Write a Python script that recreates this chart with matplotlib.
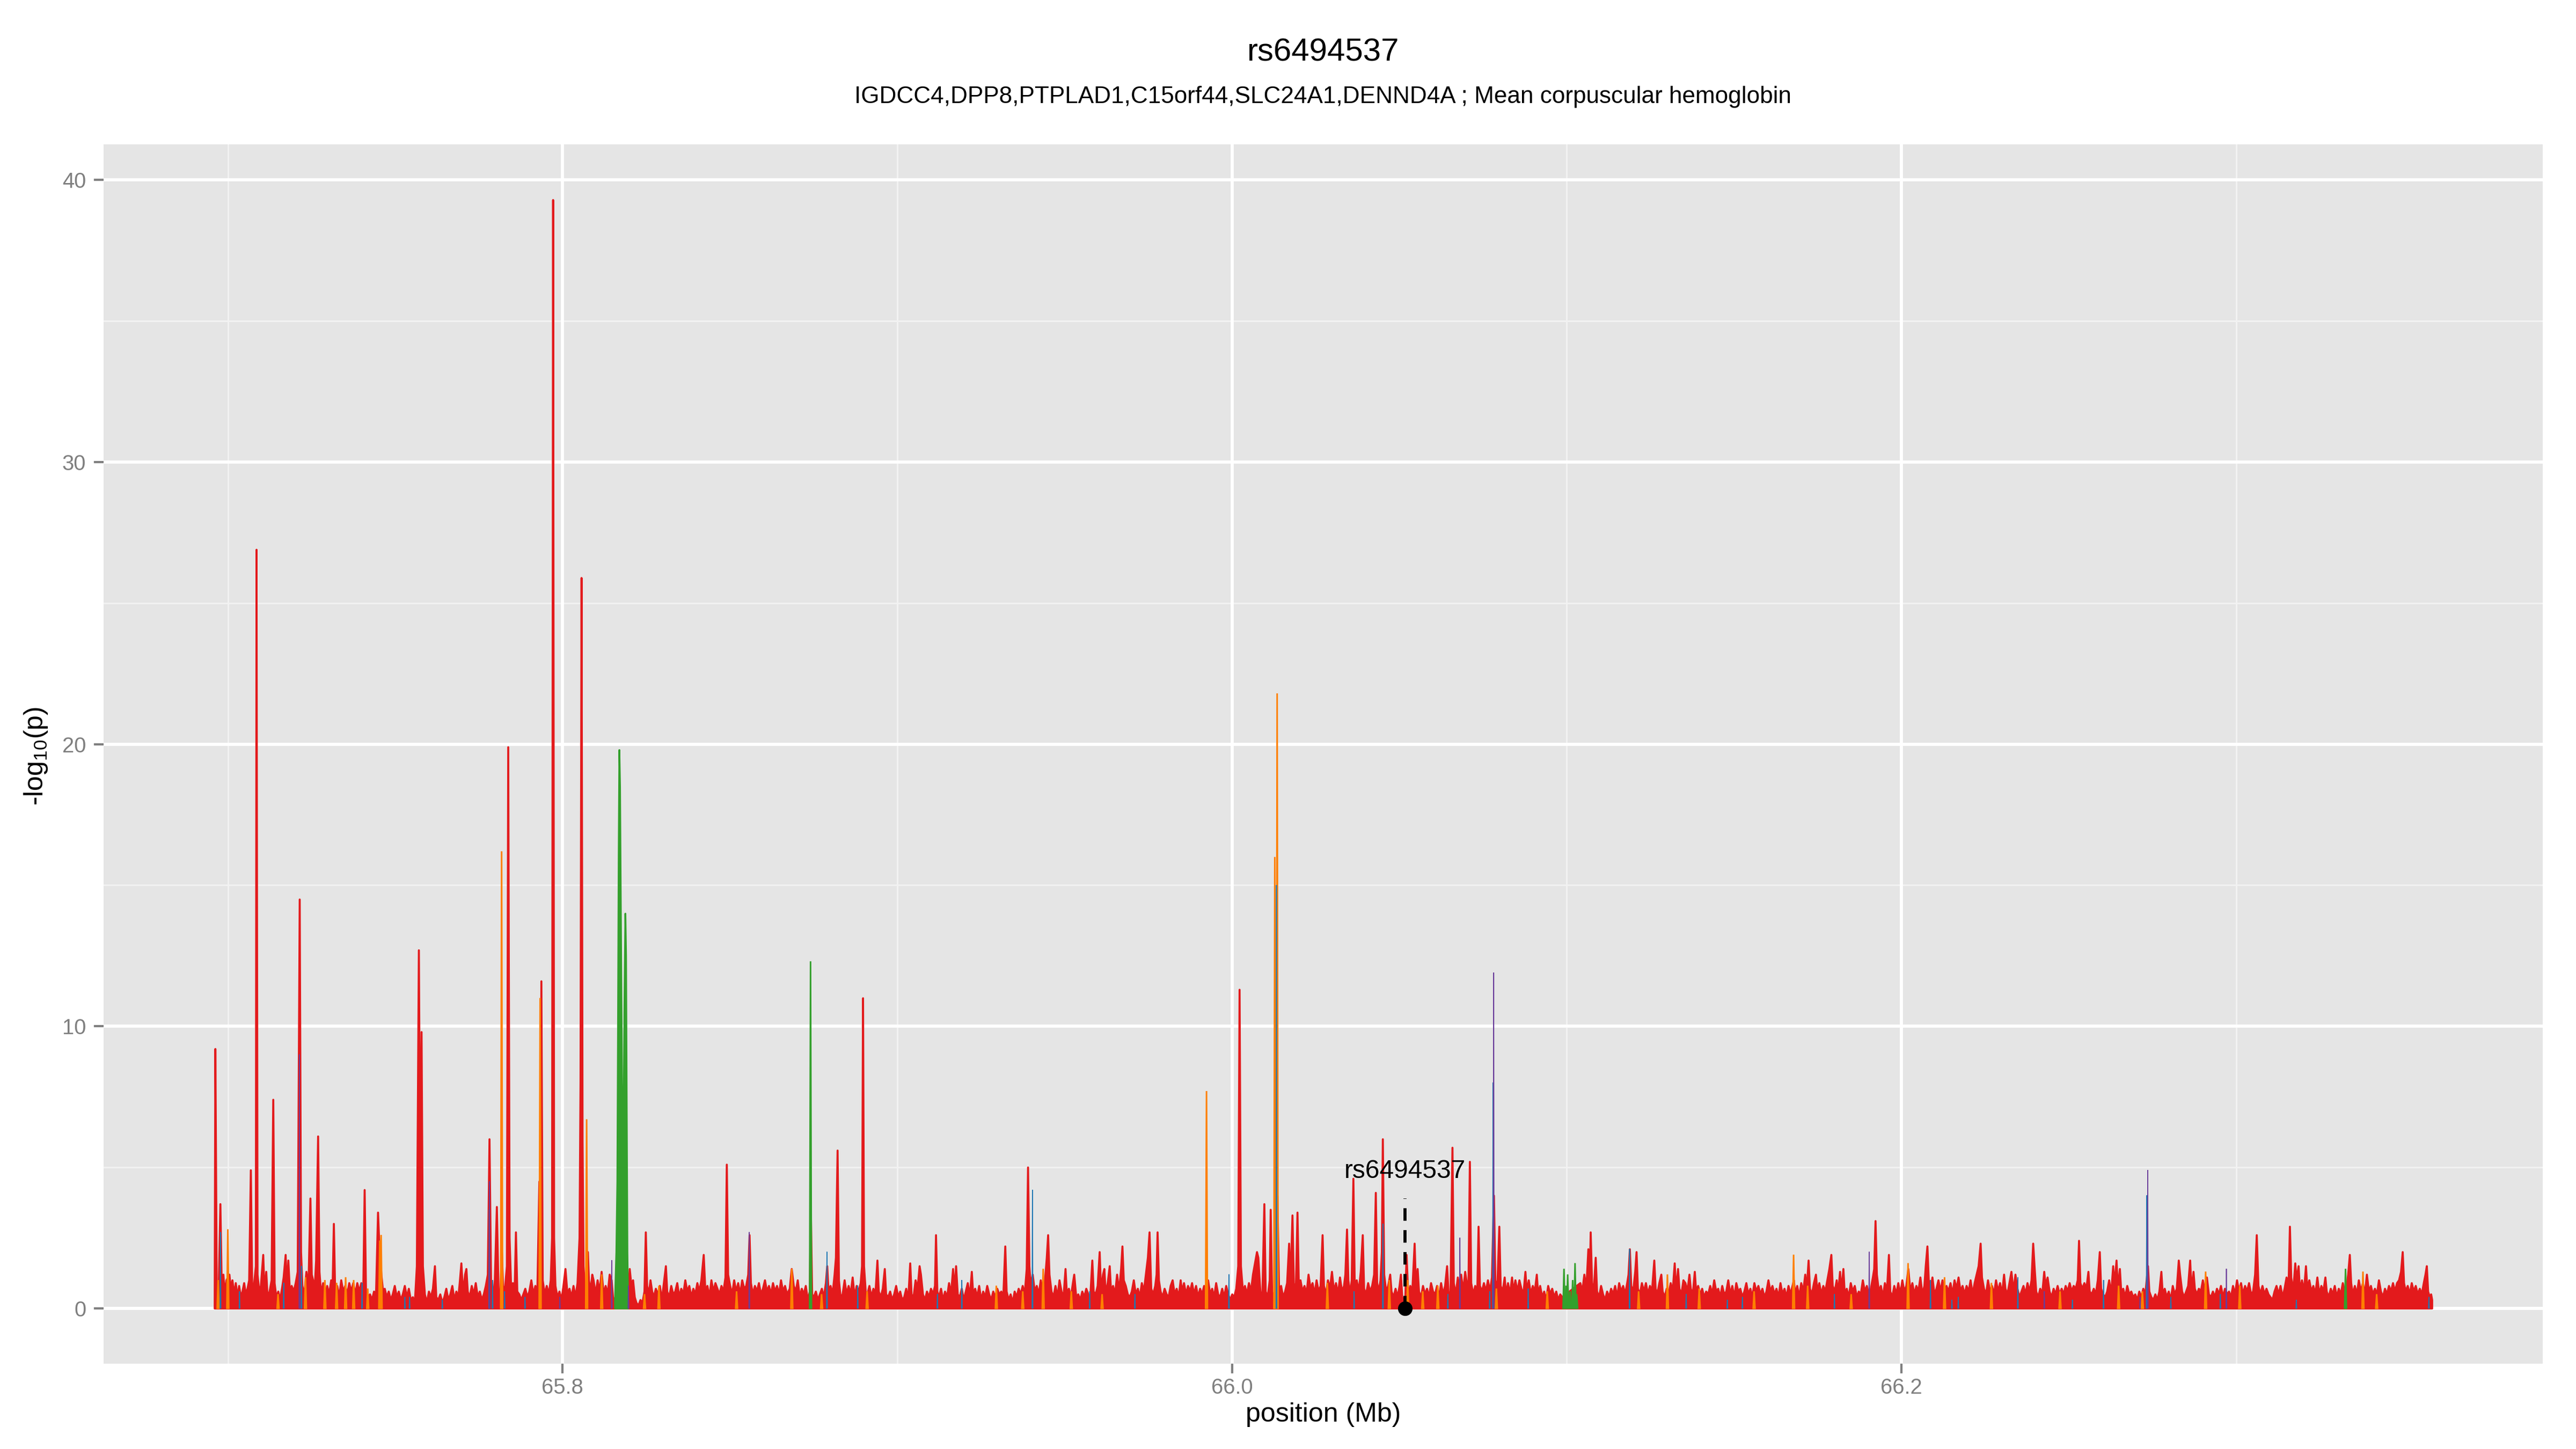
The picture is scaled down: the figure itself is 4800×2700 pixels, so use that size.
import numpy as np
import matplotlib
matplotlib.use('Agg')
import matplotlib.pyplot as plt

plt.rcParams['font.family'] = ['Liberation Sans', 'DejaVu Sans']
plt.rcParams['mathtext.fontset'] = 'custom'
plt.rcParams['mathtext.rm'] = 'Liberation Sans'
plt.rcParams['mathtext.it'] = 'Liberation Sans'

# --- text ---
title = 'rs6494537'
subtitle = 'IGDCC4,DPP8,PTPLAD1,C15orf44,SLC24A1,DENND4A ; Mean corpuscular hemoglobin'
x_title = 'position (Mb)'
y_title = r'-log$_{10}$(p)'

# lead SNP marker
lead_snp = 'rs6494537'
lead_pos = 66.0517
lead_line_top = 3.9
lead_label_y = 4.85

x_ticks = [65.8, 66.0, 66.2]
x_minor = [65.7, 65.9, 66.1, 66.3]
y_ticks = [0, 10, 20, 30, 40]
y_minor = [5, 15, 25, 35]

# --- data: (position Mb, -log10 p) ---
red_snps = [
    (65.6960, 0.0), (65.6962, 9.2), (65.6966, 1.0), (65.6972, 0.6), (65.6977, 3.7), (65.6981, 0.8),
    (65.6986, 1.2), (65.6990, 0.5), (65.6995, 1.0), (65.7004, 1.2), (65.7008, 0.7), (65.7013, 1.0),
    (65.7018, 0.5), (65.7023, 0.9), (65.7028, 0.4), (65.7033, 0.8), (65.7038, 0.4), (65.7043, 0.6),
    (65.7048, 0.9), (65.7053, 0.5), (65.7058, 0.7), (65.7063, 1.0), (65.7068, 4.9), (65.7072, 0.8),
    (65.7078, 0.9), (65.7083, 1.5), (65.7085, 26.9), (65.7088, 1.2), (65.7093, 0.6), (65.7098, 0.8),
    (65.7105, 1.9), (65.7109, 0.5), (65.7114, 1.3), (65.7118, 0.4), (65.7124, 0.6), (65.7130, 1.0),
    (65.7135, 7.4), (65.7139, 0.9), (65.7144, 0.4), (65.7150, 0.6), (65.7155, 0.3), (65.7161, 0.7),
    (65.7166, 1.1), (65.7172, 1.9), (65.7176, 0.6), (65.7180, 1.7), (65.7185, 0.5), (65.7190, 0.8),
    (65.7196, 0.6), (65.7202, 0.9), (65.7208, 1.3), (65.7214, 14.5), (65.7218, 2.0), (65.7222, 0.8),
    (65.7228, 0.5), (65.7234, 1.3), (65.7240, 0.7), (65.7246, 3.9), (65.7250, 1.2), (65.7254, 1.0),
    (65.7258, 0.5), (65.7263, 1.7), (65.7269, 6.1), (65.7273, 1.3), (65.7278, 0.5), (65.7284, 0.9),
    (65.7290, 0.4), (65.7296, 0.8), (65.7302, 0.5), (65.7308, 1.0), (65.7312, 0.6), (65.7316, 3.0),
    (65.7320, 0.5), (65.7326, 0.8), (65.7332, 0.4), (65.7338, 1.0), (65.7344, 0.6), (65.7350, 0.8),
    (65.7356, 0.5), (65.7362, 0.9), (65.7368, 0.6), (65.7374, 0.9), (65.7380, 0.5), (65.7386, 0.9),
    (65.7392, 0.6), (65.7398, 0.9), (65.7404, 0.7), (65.7408, 4.2), (65.7412, 0.6), (65.7418, 0.4),
    (65.7424, 0.5), (65.7430, 0.3), (65.7436, 0.6), (65.7442, 0.5), (65.7448, 3.4), (65.7452, 2.2),
    (65.7458, 1.2), (65.7463, 0.6), (65.7468, 0.7), (65.7474, 0.4), (65.7480, 0.6), (65.7486, 0.3),
    (65.7492, 0.5), (65.7498, 0.8), (65.7504, 0.4), (65.7510, 0.6), (65.7516, 0.3), (65.7522, 0.5),
    (65.7528, 0.8), (65.7534, 0.4), (65.7540, 0.7), (65.7546, 0.3), (65.7552, 0.4), (65.7558, 0.2),
    (65.7564, 1.5), (65.7570, 12.7), (65.7574, 4.0), (65.7578, 9.8), (65.7582, 1.5), (65.7588, 0.5),
    (65.7594, 0.2), (65.7600, 0.6), (65.7606, 0.4), (65.7612, 0.7), (65.7618, 1.5), (65.7622, 0.4),
    (65.7628, 0.3), (65.7634, 0.5), (65.7640, 0.2), (65.7646, 0.4), (65.7652, 0.7), (65.7658, 0.3),
    (65.7664, 0.5), (65.7670, 0.8), (65.7676, 0.3), (65.7682, 0.6), (65.7688, 0.4), (65.7692, 0.9),
    (65.7697, 1.6), (65.7702, 0.5), (65.7708, 1.2), (65.7712, 1.4), (65.7716, 0.6), (65.7722, 0.4),
    (65.7728, 0.8), (65.7734, 0.5), (65.7740, 0.9), (65.7746, 0.4), (65.7752, 0.6), (65.7758, 0.3),
    (65.7764, 0.5), (65.7770, 0.8), (65.7776, 1.2), (65.7781, 6.0), (65.7786, 0.6), (65.7792, 0.4),
    (65.7797, 1.0), (65.7803, 3.6), (65.7808, 0.6), (65.7813, 0.4), (65.7818, 2.0), (65.7822, 0.6),
    (65.7828, 0.8), (65.7833, 1.5), (65.7837, 19.9), (65.7841, 2.5), (65.7846, 0.6), (65.7851, 0.9),
    (65.7856, 0.5), (65.7860, 2.7), (65.7864, 0.6), (65.7870, 0.5), (65.7876, 0.3), (65.7882, 0.5),
    (65.7888, 0.7), (65.7894, 0.4), (65.7900, 0.6), (65.7906, 1.0), (65.7912, 0.5), (65.7918, 0.8),
    (65.7924, 0.6), (65.7930, 4.5), (65.7933, 1.5), (65.7936, 11.6), (65.7940, 1.0), (65.7946, 0.5),
    (65.7952, 0.8), (65.7958, 0.5), (65.7964, 1.0), (65.7968, 2.5), (65.7971, 39.3), (65.7974, 2.5),
    (65.7978, 0.8), (65.7984, 0.4), (65.7990, 0.6), (65.7996, 0.3), (65.8002, 0.8), (65.8008, 1.4),
    (65.8014, 0.5), (65.8020, 0.7), (65.8026, 0.4), (65.8032, 0.8), (65.8038, 0.4), (65.8044, 0.9),
    (65.8050, 2.5), (65.8053, 8.0), (65.8056, 25.9), (65.8059, 6.0), (65.8062, 1.5), (65.8066, 0.7),
    (65.8070, 0.5), (65.8075, 2.0), (65.8078, 1.0), (65.8083, 0.6), (65.8088, 1.2), (65.8092, 1.0),
    (65.8098, 0.5), (65.8104, 1.0), (65.8110, 0.6), (65.8116, 1.3), (65.8122, 0.5), (65.8128, 0.8),
    (65.8134, 0.5), (65.8140, 1.2), (65.8146, 1.0), (65.8150, 0.4), (65.8155, 0.3), (65.8196, 0.6),
    (65.8200, 1.4), (65.8205, 0.8), (65.8210, 1.0), (65.8215, 0.4), (65.8220, 0.2), (65.8226, 0.1),
    (65.8232, 0.3), (65.8238, 0.2), (65.8244, 0.6), (65.8248, 2.7), (65.8252, 0.8), (65.8257, 0.5),
    (65.8262, 1.0), (65.8267, 0.6), (65.8272, 0.4), (65.8278, 0.7), (65.8284, 0.5), (65.8290, 0.8),
    (65.8296, 0.3), (65.8302, 0.9), (65.8308, 1.5), (65.8312, 0.6), (65.8318, 0.4), (65.8324, 0.8),
    (65.8330, 0.5), (65.8336, 0.6), (65.8342, 0.9), (65.8348, 0.4), (65.8354, 0.7), (65.8360, 0.5),
    (65.8366, 1.0), (65.8372, 0.6), (65.8378, 0.8), (65.8384, 0.4), (65.8390, 0.7), (65.8396, 0.5),
    (65.8402, 0.9), (65.8408, 0.6), (65.8414, 1.0), (65.8421, 1.9), (65.8426, 0.6), (65.8432, 0.8),
    (65.8438, 0.4), (65.8444, 1.0), (65.8450, 0.6), (65.8456, 0.9), (65.8462, 0.7), (65.8468, 0.5),
    (65.8474, 0.8), (65.8480, 0.6), (65.8486, 1.1), (65.8490, 5.1), (65.8494, 1.2), (65.8500, 0.8),
    (65.8506, 0.5), (65.8512, 1.0), (65.8518, 0.6), (65.8524, 0.9), (65.8530, 0.5), (65.8536, 1.0),
    (65.8542, 0.7), (65.8548, 0.8), (65.8554, 1.2), (65.8558, 2.6), (65.8562, 0.9), (65.8568, 0.5),
    (65.8574, 0.8), (65.8580, 0.6), (65.8586, 0.9), (65.8592, 0.5), (65.8598, 0.7), (65.8604, 1.0),
    (65.8610, 0.6), (65.8616, 0.8), (65.8622, 0.5), (65.8628, 0.9), (65.8634, 0.6), (65.8640, 0.8),
    (65.8646, 0.5), (65.8652, 1.0), (65.8658, 0.6), (65.8664, 0.8), (65.8670, 0.5), (65.8678, 0.7),
    (65.8684, 1.4), (65.8690, 0.8), (65.8696, 0.6), (65.8702, 1.0), (65.8708, 0.4), (65.8714, 0.7),
    (65.8720, 0.5), (65.8726, 0.8), (65.8732, 0.3), (65.8738, 0.6), (65.8741, 3.5), (65.8745, 0.5),
    (65.8750, 0.4), (65.8756, 0.6), (65.8762, 0.3), (65.8768, 0.5), (65.8774, 0.7), (65.8780, 0.4),
    (65.8786, 0.9), (65.8790, 1.5), (65.8794, 0.6), (65.8800, 0.8), (65.8806, 0.5), (65.8812, 1.2),
    (65.8816, 1.8), (65.8821, 5.6), (65.8825, 1.0), (65.8830, 0.4), (65.8836, 0.5), (65.8842, 1.0),
    (65.8848, 0.5), (65.8854, 0.8), (65.8860, 0.5), (65.8866, 1.1), (65.8872, 0.4), (65.8878, 0.8),
    (65.8884, 0.6), (65.8890, 0.9), (65.8894, 1.5), (65.8897, 11.0), (65.8900, 1.5), (65.8905, 0.6),
    (65.8910, 0.5), (65.8916, 0.8), (65.8922, 0.4), (65.8928, 0.7), (65.8934, 0.5), (65.8940, 1.7),
    (65.8944, 0.6), (65.8950, 0.4), (65.8956, 0.7), (65.8962, 1.4), (65.8966, 0.5), (65.8972, 0.4),
    (65.8978, 0.6), (65.8984, 0.3), (65.8990, 0.5), (65.8996, 0.8), (65.9002, 0.4), (65.9008, 0.6),
    (65.9014, 0.3), (65.9020, 0.4), (65.9026, 0.7), (65.9032, 0.3), (65.9038, 1.6), (65.9042, 0.5),
    (65.9048, 0.4), (65.9054, 1.0), (65.9060, 0.7), (65.9066, 1.5), (65.9070, 1.2), (65.9076, 0.5),
    (65.9082, 0.3), (65.9088, 0.6), (65.9094, 0.4), (65.9100, 0.7), (65.9106, 0.5), (65.9112, 0.8),
    (65.9115, 2.6), (65.9119, 0.6), (65.9124, 0.4), (65.9130, 0.7), (65.9136, 0.3), (65.9142, 0.6),
    (65.9148, 0.4), (65.9154, 0.9), (65.9160, 0.5), (65.9166, 1.4), (65.9170, 0.6), (65.9175, 1.5),
    (65.9180, 0.5), (65.9186, 0.4), (65.9192, 0.7), (65.9198, 0.3), (65.9204, 0.6), (65.9210, 0.9),
    (65.9216, 0.4), (65.9222, 1.3), (65.9226, 0.5), (65.9232, 0.7), (65.9238, 0.4), (65.9244, 0.8),
    (65.9250, 0.3), (65.9256, 0.6), (65.9262, 0.4), (65.9268, 0.8), (65.9274, 0.5), (65.9280, 0.3),
    (65.9286, 0.6), (65.9292, 0.4), (65.9298, 0.7), (65.9304, 0.5), (65.9310, 0.6), (65.9316, 0.4),
    (65.9322, 2.2), (65.9326, 0.6), (65.9332, 0.3), (65.9338, 0.5), (65.9344, 0.2), (65.9350, 0.6),
    (65.9356, 0.4), (65.9362, 0.7), (65.9368, 0.5), (65.9374, 0.8), (65.9380, 0.5), (65.9386, 1.4),
    (65.9390, 5.0), (65.9394, 1.5), (65.9398, 0.8), (65.9404, 1.2), (65.9410, 0.6), (65.9416, 0.8),
    (65.9422, 0.5), (65.9428, 1.0), (65.9434, 0.6), (65.9440, 0.9), (65.9446, 1.8), (65.9450, 2.6),
    (65.9454, 1.2), (65.9460, 0.6), (65.9466, 0.4), (65.9472, 0.8), (65.9478, 0.4), (65.9484, 1.0),
    (65.9490, 0.6), (65.9496, 0.4), (65.9502, 1.4), (65.9506, 0.5), (65.9512, 0.7), (65.9518, 0.4),
    (65.9524, 0.9), (65.9528, 1.2), (65.9534, 0.4), (65.9540, 0.5), (65.9546, 0.3), (65.9552, 0.6),
    (65.9558, 0.4), (65.9564, 0.7), (65.9570, 0.5), (65.9576, 0.4), (65.9582, 1.7), (65.9586, 0.6),
    (65.9592, 0.5), (65.9598, 0.8), (65.9604, 2.0), (65.9608, 0.6), (65.9614, 1.2), (65.9618, 1.4),
    (65.9622, 0.5), (65.9628, 0.9), (65.9634, 1.5), (65.9638, 0.6), (65.9644, 0.8), (65.9650, 0.5),
    (65.9656, 1.2), (65.9662, 0.6), (65.9668, 1.4), (65.9672, 2.2), (65.9676, 1.0), (65.9682, 0.8),
    (65.9688, 0.5), (65.9694, 0.4), (65.9700, 0.6), (65.9706, 1.0), (65.9712, 0.5), (65.9718, 0.7),
    (65.9724, 0.4), (65.9730, 0.9), (65.9736, 0.6), (65.9742, 1.2), (65.9748, 1.8), (65.9753, 2.7),
    (65.9758, 0.7), (65.9764, 0.5), (65.9770, 0.8), (65.9774, 1.2), (65.9777, 2.7), (65.9781, 1.0),
    (65.9786, 0.6), (65.9792, 0.4), (65.9798, 0.7), (65.9804, 0.5), (65.9810, 0.4), (65.9816, 0.8),
    (65.9822, 1.0), (65.9828, 0.5), (65.9834, 0.7), (65.9840, 0.4), (65.9846, 1.0), (65.9850, 0.6),
    (65.9856, 0.9), (65.9862, 0.5), (65.9868, 0.8), (65.9874, 0.6), (65.9880, 0.9), (65.9886, 0.5),
    (65.9892, 0.8), (65.9898, 0.4), (65.9904, 0.7), (65.9910, 0.5), (65.9916, 0.8), (65.9922, 0.6),
    (65.9928, 1.0), (65.9934, 0.5), (65.9940, 0.7), (65.9946, 0.4), (65.9952, 0.9), (65.9958, 0.5),
    (65.9964, 0.4), (65.9970, 0.7), (65.9976, 0.4), (65.9982, 0.8), (65.9988, 0.5), (65.9994, 0.3),
    (66.0000, 0.5), (66.0006, 0.4), (66.0012, 0.7), (66.0018, 1.5), (66.0022, 11.3), (66.0026, 1.5),
    (66.0032, 0.6), (66.0038, 0.8), (66.0044, 0.5), (66.0050, 0.9), (66.0056, 0.6), (66.0062, 1.2),
    (66.0068, 1.6), (66.0074, 2.0), (66.0078, 1.8), (66.0084, 0.6), (66.0090, 0.4), (66.0096, 3.7),
    (66.0100, 0.6), (66.0106, 0.4), (66.0112, 1.0), (66.0115, 3.5), (66.0119, 0.6), (66.0124, 0.4),
    (66.0130, 0.8), (66.0135, 4.0), (66.0140, 0.6), (66.0146, 0.8), (66.0152, 0.4), (66.0158, 0.6),
    (66.0164, 0.9), (66.0170, 2.3), (66.0174, 0.8), (66.0180, 3.3), (66.0184, 0.9), (66.0190, 0.6),
    (66.0195, 3.4), (66.0199, 0.8), (66.0204, 1.0), (66.0210, 0.6), (66.0216, 0.8), (66.0222, 0.5),
    (66.0228, 1.2), (66.0234, 0.7), (66.0240, 0.9), (66.0246, 0.5), (66.0252, 1.0), (66.0258, 0.6),
    (66.0264, 0.8), (66.0270, 2.6), (66.0274, 0.8), (66.0280, 0.5), (66.0286, 1.0), (66.0292, 0.7),
    (66.0298, 1.3), (66.0304, 0.6), (66.0310, 0.9), (66.0316, 0.5), (66.0322, 1.1), (66.0328, 0.6),
    (66.0334, 0.8), (66.0338, 1.2), (66.0343, 2.8), (66.0347, 1.0), (66.0352, 0.5), (66.0357, 1.0),
    (66.0362, 4.6), (66.0366, 0.8), (66.0372, 1.0), (66.0378, 0.6), (66.0384, 1.3), (66.0390, 2.6),
    (66.0394, 0.7), (66.0400, 0.5), (66.0406, 0.9), (66.0412, 0.6), (66.0418, 0.8), (66.0424, 1.2),
    (66.0429, 4.1), (66.0433, 0.9), (66.0438, 0.6), (66.0443, 1.0), (66.0447, 2.0), (66.0450, 6.0),
    (66.0454, 1.2), (66.0460, 0.6), (66.0466, 0.8), (66.0472, 1.2), (66.0476, 0.6), (66.0482, 0.4),
    (66.0488, 0.7), (66.0494, 0.4), (66.0500, 0.8), (66.0504, 1.2), (66.0508, 0.4), (66.0512, 0.3),
    (66.0517, 0.3), (66.0521, 1.9), (66.0526, 0.4), (66.0532, 0.8), (66.0538, 0.6), (66.0545, 2.3),
    (66.0549, 0.7), (66.0554, 1.4), (66.0558, 0.6), (66.0564, 0.4), (66.0570, 0.8), (66.0576, 0.5),
    (66.0582, 0.7), (66.0588, 0.4), (66.0594, 0.9), (66.0600, 0.6), (66.0606, 0.5), (66.0612, 0.8),
    (66.0618, 0.4), (66.0624, 0.9), (66.0630, 0.5), (66.0636, 0.8), (66.0642, 1.5), (66.0646, 0.6),
    (66.0652, 0.4), (66.0658, 5.7), (66.0662, 0.9), (66.0668, 0.5), (66.0674, 1.1), (66.0678, 0.8),
    (66.0684, 1.2), (66.0690, 0.6), (66.0696, 1.3), (66.0702, 0.8), (66.0706, 1.0), (66.0710, 5.2),
    (66.0714, 0.9), (66.0720, 0.5), (66.0726, 0.8), (66.0732, 0.5), (66.0736, 2.9), (66.0740, 0.8),
    (66.0746, 0.6), (66.0752, 0.9), (66.0758, 0.6), (66.0764, 1.0), (66.0770, 0.6), (66.0776, 1.1),
    (66.0782, 4.0), (66.0786, 1.0), (66.0792, 0.7), (66.0798, 2.9), (66.0802, 0.8), (66.0808, 0.6),
    (66.0814, 1.1), (66.0818, 0.5), (66.0824, 0.9), (66.0830, 0.5), (66.0836, 1.1), (66.0840, 0.6),
    (66.0846, 1.0), (66.0852, 0.6), (66.0858, 1.0), (66.0864, 0.7), (66.0870, 0.5), (66.0876, 1.3),
    (66.0880, 0.6), (66.0886, 1.0), (66.0892, 0.5), (66.0898, 0.8), (66.0904, 0.6), (66.0910, 1.2),
    (66.0914, 0.5), (66.0920, 0.8), (66.0926, 0.4), (66.0932, 0.6), (66.0938, 0.3), (66.0944, 0.8),
    (66.0950, 0.5), (66.0956, 0.7), (66.0962, 0.4), (66.0968, 0.6), (66.0974, 0.3), (66.0980, 0.5),
    (66.0986, 0.4), (66.1040, 0.9), (66.1046, 0.6), (66.1052, 1.2), (66.1058, 0.7), (66.1064, 2.1),
    (66.1068, 0.8), (66.1071, 2.7), (66.1075, 0.9), (66.1080, 0.6), (66.1086, 1.8), (66.1090, 0.6),
    (66.1096, 0.4), (66.1102, 0.8), (66.1108, 0.5), (66.1114, 0.3), (66.1120, 0.6), (66.1126, 0.4),
    (66.1132, 0.7), (66.1138, 0.5), (66.1144, 0.8), (66.1150, 0.4), (66.1156, 0.9), (66.1162, 0.6),
    (66.1168, 0.8), (66.1174, 0.5), (66.1180, 0.9), (66.1184, 1.2), (66.1188, 2.1), (66.1192, 0.8),
    (66.1198, 0.6), (66.1204, 1.3), (66.1208, 2.0), (66.1212, 0.7), (66.1218, 0.5), (66.1224, 0.9),
    (66.1230, 0.6), (66.1236, 0.9), (66.1242, 0.5), (66.1248, 0.8), (66.1254, 0.6), (66.1261, 1.7),
    (66.1265, 0.7), (66.1270, 0.5), (66.1276, 0.9), (66.1282, 1.2), (66.1286, 0.6), (66.1292, 0.4),
    (66.1298, 0.7), (66.1304, 0.5), (66.1310, 0.9), (66.1316, 0.6), (66.1322, 1.6), (66.1326, 0.6),
    (66.1332, 1.4), (66.1336, 0.7), (66.1342, 0.5), (66.1348, 1.0), (66.1354, 0.9), (66.1360, 0.6),
    (66.1366, 1.2), (66.1370, 0.7), (66.1376, 0.5), (66.1382, 1.3), (66.1386, 0.6), (66.1392, 0.8),
    (66.1398, 0.5), (66.1404, 0.7), (66.1410, 0.4), (66.1416, 0.6), (66.1422, 0.5), (66.1428, 0.8),
    (66.1434, 0.5), (66.1440, 1.0), (66.1446, 0.6), (66.1452, 0.7), (66.1458, 0.4), (66.1464, 0.8),
    (66.1470, 0.5), (66.1476, 0.6), (66.1482, 1.0), (66.1488, 0.5), (66.1494, 0.8), (66.1500, 0.4),
    (66.1506, 0.9), (66.1512, 0.6), (66.1518, 0.7), (66.1524, 0.4), (66.1530, 0.6), (66.1536, 0.9),
    (66.1542, 0.5), (66.1548, 0.7), (66.1554, 0.4), (66.1560, 0.9), (66.1566, 0.6), (66.1572, 0.8),
    (66.1578, 0.5), (66.1584, 0.7), (66.1590, 0.4), (66.1596, 0.6), (66.1602, 1.0), (66.1608, 0.6),
    (66.1614, 0.8), (66.1620, 0.5), (66.1626, 0.7), (66.1632, 0.4), (66.1638, 0.9), (66.1644, 0.5),
    (66.1650, 0.7), (66.1656, 0.4), (66.1662, 0.8), (66.1668, 0.5), (66.1674, 0.8), (66.1678, 1.0),
    (66.1682, 0.5), (66.1688, 0.8), (66.1694, 0.4), (66.1700, 0.9), (66.1706, 0.6), (66.1712, 1.2),
    (66.1716, 0.6), (66.1722, 1.7), (66.1726, 0.7), (66.1732, 0.5), (66.1738, 0.9), (66.1744, 1.2),
    (66.1748, 0.6), (66.1754, 0.9), (66.1760, 0.5), (66.1766, 0.8), (66.1772, 0.6), (66.1778, 1.0),
    (66.1784, 1.4), (66.1790, 1.9), (66.1794, 0.8), (66.1800, 0.6), (66.1806, 1.0), (66.1810, 0.5),
    (66.1816, 1.3), (66.1820, 0.6), (66.1826, 1.4), (66.1830, 0.5), (66.1836, 0.7), (66.1842, 0.4),
    (66.1848, 0.9), (66.1854, 0.6), (66.1860, 0.8), (66.1866, 0.4), (66.1872, 0.6), (66.1878, 0.5),
    (66.1884, 1.0), (66.1890, 0.6), (66.1896, 0.8), (66.1902, 0.5), (66.1908, 0.7), (66.1914, 1.1),
    (66.1918, 1.4), (66.1922, 3.1), (66.1926, 1.2), (66.1932, 0.6), (66.1938, 0.8), (66.1944, 0.4),
    (66.1950, 0.9), (66.1956, 0.6), (66.1962, 1.9), (66.1966, 0.6), (66.1972, 0.4), (66.1978, 0.8),
    (66.1984, 0.5), (66.1990, 0.9), (66.1996, 0.5), (66.2002, 1.0), (66.2008, 0.6), (66.2014, 0.8),
    (66.2020, 1.4), (66.2026, 0.6), (66.2032, 0.9), (66.2038, 0.5), (66.2044, 0.8), (66.2050, 0.6),
    (66.2056, 1.1), (66.2062, 0.5), (66.2068, 0.8), (66.2072, 1.5), (66.2077, 2.2), (66.2081, 1.0),
    (66.2086, 0.6), (66.2092, 1.1), (66.2098, 0.5), (66.2104, 0.7), (66.2110, 1.0), (66.2116, 0.6),
    (66.2122, 1.0), (66.2128, 0.5), (66.2134, 0.8), (66.2140, 0.6), (66.2146, 0.9), (66.2152, 0.5),
    (66.2158, 1.0), (66.2164, 0.7), (66.2170, 1.1), (66.2176, 0.6), (66.2182, 0.8), (66.2188, 0.5),
    (66.2194, 0.8), (66.2200, 0.6), (66.2206, 1.0), (66.2212, 0.5), (66.2218, 0.9), (66.2224, 1.2),
    (66.2230, 1.5), (66.2236, 2.3), (66.2240, 1.1), (66.2246, 0.7), (66.2252, 0.5), (66.2258, 1.0),
    (66.2264, 0.6), (66.2270, 0.8), (66.2276, 0.5), (66.2282, 1.0), (66.2288, 0.6), (66.2294, 0.9),
    (66.2300, 0.5), (66.2306, 1.2), (66.2310, 0.7), (66.2316, 0.5), (66.2322, 0.9), (66.2328, 1.3),
    (66.2334, 0.6), (66.2340, 1.2), (66.2346, 0.7), (66.2352, 0.4), (66.2358, 0.6), (66.2364, 0.8),
    (66.2370, 0.5), (66.2376, 0.9), (66.2382, 0.6), (66.2388, 1.0), (66.2393, 2.3), (66.2397, 1.5),
    (66.2402, 0.6), (66.2408, 0.4), (66.2414, 0.7), (66.2420, 0.5), (66.2426, 1.3), (66.2430, 0.8),
    (66.2436, 1.1), (66.2442, 0.6), (66.2448, 0.4), (66.2454, 0.7), (66.2460, 0.5), (66.2466, 0.8),
    (66.2472, 0.5), (66.2478, 0.7), (66.2484, 0.5), (66.2490, 0.8), (66.2496, 0.6), (66.2502, 0.9),
    (66.2508, 0.6), (66.2514, 0.8), (66.2520, 0.7), (66.2526, 1.0), (66.2530, 2.4), (66.2534, 0.9),
    (66.2540, 0.7), (66.2546, 0.9), (66.2552, 0.7), (66.2558, 1.3), (66.2562, 0.6), (66.2568, 0.5),
    (66.2574, 0.7), (66.2580, 0.5), (66.2586, 1.0), (66.2592, 2.0), (66.2596, 0.7), (66.2602, 0.5),
    (66.2608, 0.4), (66.2614, 0.6), (66.2620, 1.0), (66.2626, 0.5), (66.2632, 1.5), (66.2636, 0.8),
    (66.2642, 1.7), (66.2646, 0.7), (66.2652, 1.4), (66.2656, 0.6), (66.2662, 0.7), (66.2668, 0.4),
    (66.2674, 0.8), (66.2680, 0.5), (66.2686, 0.6), (66.2692, 0.4), (66.2698, 0.5), (66.2704, 0.3),
    (66.2710, 0.6), (66.2716, 0.4), (66.2722, 0.7), (66.2728, 0.5), (66.2736, 1.5), (66.2740, 0.6),
    (66.2746, 0.4), (66.2752, 0.3), (66.2758, 0.5), (66.2764, 0.3), (66.2770, 0.6), (66.2776, 1.3),
    (66.2780, 0.5), (66.2786, 0.7), (66.2792, 0.4), (66.2798, 0.6), (66.2804, 0.3), (66.2810, 0.8),
    (66.2816, 0.5), (66.2822, 0.7), (66.2828, 1.7), (66.2832, 1.2), (66.2838, 0.6), (66.2844, 0.4),
    (66.2850, 0.6), (66.2856, 0.8), (66.2862, 1.7), (66.2866, 0.6), (66.2872, 1.3), (66.2876, 0.7),
    (66.2882, 0.5), (66.2888, 0.7), (66.2894, 0.6), (66.2900, 1.0), (66.2906, 0.6), (66.2912, 1.1),
    (66.2918, 0.5), (66.2924, 0.4), (66.2930, 0.6), (66.2936, 0.4), (66.2942, 0.7), (66.2948, 0.5),
    (66.2954, 0.8), (66.2960, 0.4), (66.2966, 0.7), (66.2972, 0.5), (66.2978, 0.6), (66.2984, 0.4),
    (66.2990, 0.8), (66.2996, 0.5), (66.3002, 1.0), (66.3008, 0.6), (66.3014, 0.9), (66.3020, 0.5),
    (66.3026, 0.8), (66.3032, 0.6), (66.3038, 0.9), (66.3044, 0.5), (66.3050, 0.6), (66.3056, 1.2),
    (66.3061, 2.6), (66.3066, 0.8), (66.3072, 0.5), (66.3078, 0.8), (66.3084, 0.5), (66.3090, 0.7),
    (66.3096, 0.5), (66.3102, 0.4), (66.3108, 0.3), (66.3114, 0.6), (66.3120, 0.8), (66.3126, 0.5),
    (66.3132, 0.8), (66.3138, 0.4), (66.3144, 0.7), (66.3150, 1.1), (66.3156, 0.8), (66.3160, 2.9),
    (66.3164, 1.1), (66.3170, 0.6), (66.3176, 1.6), (66.3180, 1.0), (66.3186, 1.5), (66.3190, 0.6),
    (66.3196, 1.0), (66.3202, 0.6), (66.3208, 1.5), (66.3212, 0.7), (66.3218, 1.0), (66.3224, 0.6),
    (66.3230, 0.8), (66.3236, 0.5), (66.3242, 1.1), (66.3248, 0.5), (66.3254, 0.8), (66.3260, 0.6),
    (66.3266, 1.1), (66.3270, 0.6), (66.3276, 0.4), (66.3282, 0.7), (66.3288, 0.5), (66.3294, 0.8),
    (66.3300, 0.4), (66.3306, 0.7), (66.3312, 0.5), (66.3318, 0.9), (66.3324, 0.6), (66.3330, 0.8),
    (66.3334, 1.2), (66.3339, 1.9), (66.3343, 0.9), (66.3348, 0.5), (66.3354, 0.8), (66.3360, 0.5),
    (66.3366, 1.0), (66.3372, 0.6), (66.3378, 0.9), (66.3384, 0.5), (66.3390, 1.2), (66.3396, 0.6),
    (66.3402, 0.8), (66.3408, 0.5), (66.3414, 0.7), (66.3420, 0.5), (66.3426, 1.0), (66.3432, 0.6),
    (66.3438, 0.4), (66.3444, 0.7), (66.3450, 0.5), (66.3456, 0.8), (66.3462, 0.6), (66.3468, 0.9),
    (66.3474, 0.6), (66.3480, 0.9), (66.3486, 1.0), (66.3492, 1.3), (66.3497, 2.0), (66.3501, 0.9),
    (66.3506, 0.6), (66.3512, 0.8), (66.3518, 0.5), (66.3524, 0.9), (66.3530, 0.6), (66.3536, 0.8),
    (66.3542, 0.5), (66.3548, 0.7), (66.3554, 0.5), (66.3560, 0.9), (66.3565, 1.2), (66.3569, 1.5),
    (66.3573, 0.6), (66.3578, 0.4), (66.3582, 0.5), (66.3585, 0.3),
]

orange_snps = [
    (65.6971, 1.0), (65.7000, 2.8), (65.7150, 0.5), (65.7232, 1.1), (65.7290, 1.0), (65.7325, 0.9),
    (65.7352, 1.1), (65.7376, 1.0), (65.7418, 0.7), (65.7454, 2.4), (65.7458, 2.6), (65.7818, 16.2),
    (65.7933, 11.0), (65.8072, 6.7), (65.8117, 1.2), (65.8245, 0.5), (65.8288, 0.8), (65.8520, 0.6),
    (65.8685, 1.4), (65.8774, 0.5), (65.8910, 0.6), (65.9296, 0.8), (65.9375, 0.6), (65.9436, 1.4),
    (65.9520, 0.6), (65.9612, 0.5), (65.9924, 7.7), (66.0128, 16.0), (66.0135, 21.8), (66.0285, 0.9),
    (66.0470, 1.0), (66.0525, 1.0), (66.0570, 0.6), (66.0615, 0.8), (66.0790, 0.7), (66.0942, 0.6),
    (66.1215, 0.6), (66.1301, 1.2), (66.1396, 0.7), (66.1560, 0.6), (66.1678, 1.9), (66.1720, 0.8),
    (66.1850, 0.5), (66.2020, 1.6), (66.2129, 1.1), (66.2269, 0.9), (66.2474, 0.6), (66.2649, 0.8),
    (66.2720, 0.6), (66.2909, 1.3), (66.3011, 0.8), (66.3379, 1.3), (66.3420, 0.5),
]

blue_snps = [
    (65.6978, 2.7), (65.7035, 0.6), (65.7167, 0.9), (65.7220, 1.5), (65.7401, 0.9), (65.7529, 0.4),
    (65.7543, 0.4), (65.7641, 0.3), (65.7781, 3.5), (65.7791, 1.0), (65.7827, 0.6), (65.7888, 0.4),
    (65.8790, 2.0), (65.8882, 0.8), (65.9120, 0.5), (65.9193, 1.0), (65.9404, 4.2), (65.9575, 0.6),
    (65.9710, 0.5), (65.9991, 1.2), (66.0133, 15.0), (66.0365, 0.6), (66.0451, 3.0), (66.0645, 0.5),
    (66.0770, 0.6), (66.0780, 8.0), (66.0885, 0.7), (66.1188, 2.1), (66.1357, 0.5), (66.1480, 0.3),
    (66.1525, 0.4), (66.1800, 0.5), (66.2087, 1.0), (66.2151, 0.3), (66.2170, 0.4), (66.2348, 1.1),
    (66.2511, 0.3), (66.2604, 1.0), (66.2733, 4.0), (66.2805, 0.4), (66.2953, 0.5), (66.3180, 0.3),
    (66.3576, 0.4),
]

purple_snps = [
    (65.7214, 9.0), (65.7782, 4.5), (65.7992, 0.4), (65.8147, 1.7), (65.8197, 0.8), (65.8558, 2.7),
    (66.0681, 2.5), (66.0782, 11.9), (66.1904, 2.0), (66.2427, 0.6), (66.2713, 0.4), (66.2736, 4.9),
    (66.2971, 1.4),
]

# contiguous green block plus isolated green spikes
green_block = [
    (65.8156, 0.3), (65.8160, 2.0), (65.8163, 4.5), (65.8165, 10.0), (65.8167, 16.0), (65.8169, 19.8),
    (65.8171, 18.5), (65.8174, 13.0), (65.8177, 8.0), (65.8179, 5.9), (65.8182, 7.0), (65.8184, 10.5),
    (65.8187, 14.0), (65.8189, 12.5), (65.8191, 7.0), (65.8193, 2.0), (65.8195, 0.3),
]
green_snps = [
    (65.8741, 12.3), (66.0992, 1.4), (66.0998, 0.8), (66.1003, 1.2), (66.1010, 0.6), (66.1018, 1.0),
    (66.1025, 1.6), (66.1030, 0.5), (66.3327, 1.4),
]

RED, ORANGE, BLUE, PURPLE, GREEN = '#E31A1C', '#FF7F00', '#1F78B4', '#6A3D9A', '#33A02C'


def spikes(ax, snps, color, half=0.00028, lw=0.6):
    for p, v in snps:
        ax.fill([p - half, p, p + half], [0, v, 0], color=color, ec=color, lw=lw, zorder=3)


red = np.array(sorted(red_snps))
green_arr = np.array(green_block)

fig = plt.figure(figsize=(16, 9), dpi=300)
ax = fig.add_axes([0.0402, 0.0589, 0.9469, 0.8415])
ax.set_facecolor('#E5E5E5')
for s in ax.spines.values():
    s.set_visible(False)

# grid (ggplot grey theme)
for v in x_minor:
    ax.axvline(v, color='#F2F2F2', lw=0.7, zorder=0)
for v in y_minor:
    ax.axhline(v, color='#F2F2F2', lw=0.7, zorder=0)
for v in x_ticks:
    ax.axvline(v, color='white', lw=1.4, zorder=0)
for v in y_ticks:
    ax.axhline(v, color='white', lw=1.4, zorder=0)

ax.fill_between(red[:, 0], red[:, 1], 0, color=RED, lw=0.9, ec=RED, zorder=2)
ax.fill_between(green_arr[:, 0], green_arr[:, 1], 0, color=GREEN, lw=0.8, ec=GREEN, zorder=3)
spikes(ax, orange_snps, ORANGE, lw=0.7)
spikes(ax, green_snps, GREEN, lw=0.7)
spikes(ax, blue_snps, BLUE, half=0.00012, lw=0.4)
spikes(ax, purple_snps, PURPLE, half=0.00012, lw=0.4)

# lead SNP
ax.plot([lead_pos, lead_pos], [0, lead_line_top], color='black', lw=1.4,
        dashes=(4, 3), zorder=5)
ax.plot([lead_pos], [0], 'o', color='black', ms=5.5, zorder=6)
ax.text(lead_pos, lead_label_y, lead_snp, ha='center', va='center', fontsize=11.5,
        color='black', zorder=6)

# limits with 5% expansion like ggplot
x_lo, x_hi = red[:, 0].min(), red[:, 0].max()
ymax = red[:, 1].max()
ax.set_xlim(x_lo - 0.05 * (x_hi - x_lo), x_hi + 0.05 * (x_hi - x_lo))
ax.set_ylim(-0.05 * ymax, ymax * 1.05)

ax.set_xticks(x_ticks)
ax.set_xticklabels([f'{v:.1f}' for v in x_ticks])
ax.set_yticks(y_ticks)
ax.tick_params(axis='both', length=4.3, width=1.0, color='#7F7F7F', labelcolor='#7F7F7F',
               labelsize=9.6)
ax.tick_params(axis='y', pad=3.5)
ax.tick_params(axis='x', pad=2)

fig.text(0.5136, 0.9637, title, ha='center', va='center', fontsize=14.4)
fig.text(0.5136, 0.933, subtitle, ha='center', va='center', fontsize=10.6)
fig.text(0.5136, 0.0237, x_title, ha='center', va='center', fontsize=12)
fig.text(0.014, 0.478, y_title, ha='center', va='center', rotation=90, fontsize=12)

fig.savefig('out.png', dpi=300)
